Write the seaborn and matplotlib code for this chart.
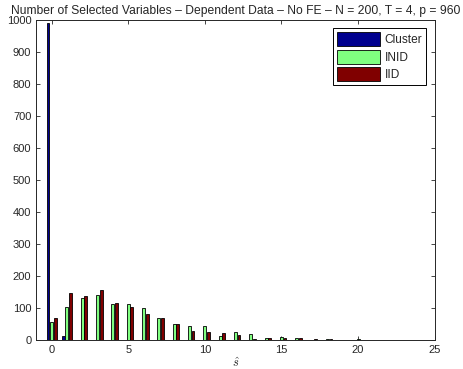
import numpy as np
import pandas as pd
import matplotlib
matplotlib.use('Agg')
import matplotlib.pyplot as plt
import seaborn as sns

# number of selected variables s_hat = 0..24
s_hat = list(range(25))
cluster = [990, 13, 0, 0, 0, 0, 0, 0, 0, 0, 0, 0, 0, 0, 0, 0, 0, 0, 0, 0, 0, 0, 0, 0, 0]
inid = [55, 103, 132, 141, 112, 112, 101, 69, 50, 42, 42, 13, 24, 19, 6, 10, 6, 1, 3, 0, 2, 1, 1, 0, 1]
iid = [68, 145, 137, 155, 115, 103, 81, 67, 50, 29, 24, 22, 16, 2, 6, 6, 5, 2, 4, 0, 1, 1, 1, 0, 0]

df = pd.concat([
    pd.DataFrame({'s': s_hat, 'count': cluster, 'method': 'Cluster'}),
    pd.DataFrame({'s': s_hat, 'count': inid, 'method': 'INID'}),
    pd.DataFrame({'s': s_hat, 'count': iid, 'method': 'IID'}),
])

sns.set_style('ticks')
plt.rcParams['font.family'] = ['Liberation Sans', 'DejaVu Sans']
plt.rcParams['mathtext.fontset'] = 'cm'

fig, ax = plt.subplots(figsize=(4.64, 3.69), dpi=100)
palette = {'Cluster': '#00008F', 'INID': '#80FF80', 'IID': '#800000'}
sns.barplot(data=df, x='s', y='count', hue='method', native_scale=True,
            palette=palette, width=0.7, gap=0.2, dodge=True,
            edgecolor='black', linewidth=0.6, saturation=1, errorbar=None, ax=ax)

ax.set_xlim(-1, 25)
ax.set_ylim(0, 1000)
ax.set_xticks([0, 5, 10, 15, 20, 25])
ax.set_yticks(range(0, 1001, 100))
ax.tick_params(direction='in', top=True, right=True, labelsize=8, length=3, width=0.6)
for sp in ax.spines.values():
    sp.set_linewidth(0.7)
    sp.set_visible(True)
ax.set_xlabel(r'$\hat{s}$', fontsize=9, labelpad=1)
ax.set_ylabel('')
ax.set_title('Number of Selected Variables \u2013 Dependent Data \u2013 No FE \u2013 N = 200, T = 4, p = 960',
             fontsize=8.7, pad=4)
leg = ax.legend(loc='upper right', fontsize=8.6, frameon=True, fancybox=False,
                edgecolor='black', framealpha=1, handlelength=3.6, handleheight=1.4,
                borderaxespad=0.7, labelspacing=0.3, handletextpad=0.4, borderpad=0.35)
leg.get_frame().set_linewidth(0.7)
leg.set_title(None)

plt.subplots_adjust(left=0.078, right=0.937, top=0.946, bottom=0.079)
plt.savefig('out.png', dpi=100)
